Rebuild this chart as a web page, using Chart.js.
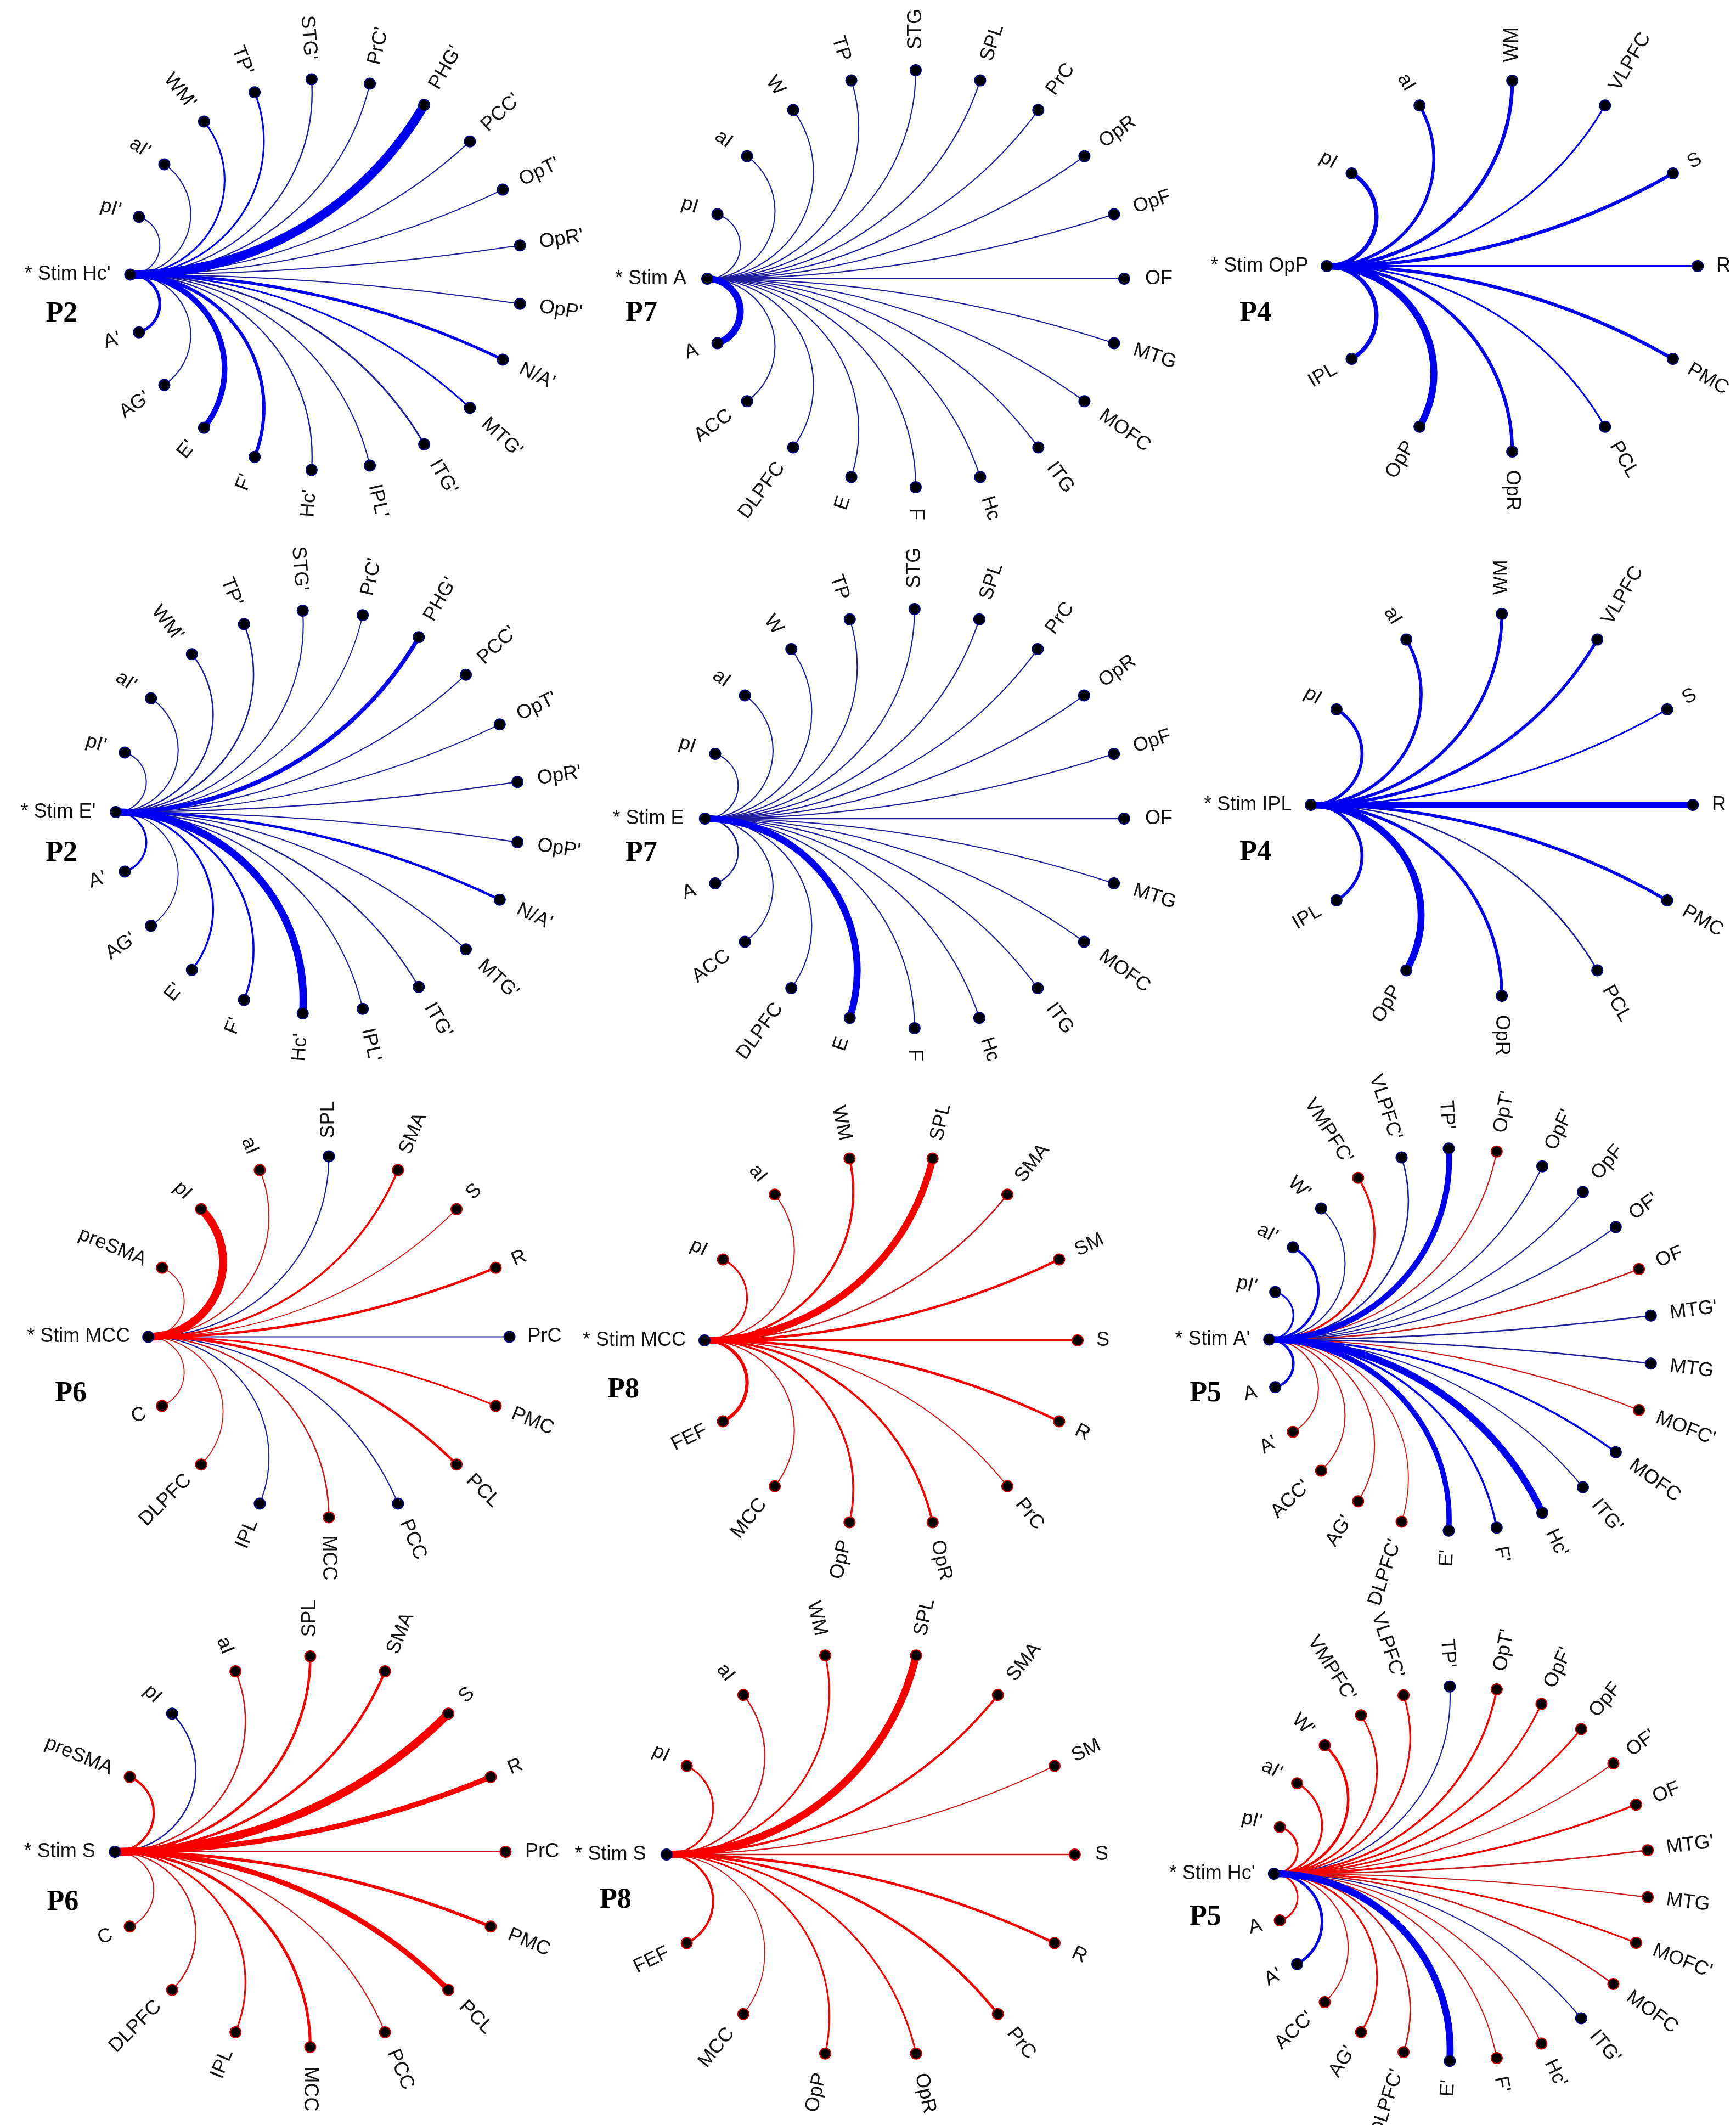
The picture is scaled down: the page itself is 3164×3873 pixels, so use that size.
<!DOCTYPE html>
<html>
<head>
<meta charset="utf-8">
<script src="https://cdn.jsdelivr.net/npm/chart.js@4.4.1/dist/chart.umd.min.js"></script>
<style>
html, body { margin: 0; padding: 0; background: #fff; }
body { width: 3164px; height: 3873px; position: relative; overflow: hidden; }
canvas { position: absolute; }
</style>
</head>
<body>
<script>
// node lists, clockwise from the node just above the stimulation site
const nodesP2 = ["pI'", "aI'", "WM'", "TP'", "STG'", "PrC'", "PHG'", "PCC'", "OpT'", "OpR'", "OpP'", "N/A'", "MTG'", "ITG'", "IPL'", "Hc'", "F'", "E'", "AG'", "A'"];
const nodesP7 = ["pI", "aI", "W", "TP", "STG", "SPL", "PrC", "OpR", "OpF", "OF", "MTG", "MOFC", "ITG", "Hc", "F", "E", "DLPFC", "ACC", "A"];
const nodesP4 = ["pI", "aI", "WM", "VLPFC", "S", "R", "PMC", "PCL", "OpR", "OpP", "IPL"];
const nodesP6 = ["preSMA", "pI", "aI", "SPL", "SMA", "S", "R", "PrC", "PMC", "PCL", "PCC", "MCC", "IPL", "DLPFC", "C"];
const nodesP8 = ["pI", "aI", "WM", "SPL", "SMA", "SM", "S", "R", "PrC", "OpR", "OpP", "MCC", "FEF"];
const nodesP5 = ["pI'", "aI'", "W'", "VMPFC'", "VLPFC'", "TP'", "OpT'", "OpF'", "OpF", "OF'", "OF", "MTG'", "MTG", "MOFC'", "MOFC", "ITG'", "Hc'", "F'", "E'", "DLPFC'", "AG'", "ACC'", "A'", "A"];

// connection strength per node: negative = decrease (blue), positive = increase (red)
const stimHcP2 = [-1.5, -1.5, -2.5, -2.5, -1.8, -1.5, -16, -1.5, -1.5, -1.5, -1.5, -4.7, -2.6, -2.4, -1.5, -1.8, -5.4, -9.5, -1.5, -4.7];
const stimAP7 = [-1.5, -1.5, -1.5, -1.5, -1.5, -1.5, -1.5, -1.5, -1.5, -1.5, -1.5, -1.5, -1.5, -1.5, -1.5, -1.5, -1.5, -1.5, -12];
const stimOpPP4 = [-7, -5, -6, -2.5, -5.5, -3.5, -5.5, -2.5, -5.5, -12, -7];
const stimEP2 = [-1.5, -1.5, -2, -2, -1.5, -1.2, -7, -1.5, -1.2, -1.5, -1.5, -4, -1.5, -1.8, -1.5, -13, -3, -3, -1.2, -3];
const stimEP7 = [-1.5, -1.5, -1.5, -1.5, -1.5, -1.5, -1.5, -1.5, -1.5, -2, -1.5, -1.5, -1.5, -1.5, -1.5, -12, -1.5, -1.5, -2];
const stimIplP4 = [-5, -5, -5, -5, -2.5, -10, -5, -2, -5, -12, -5];
const stimMccP6 = [1.2, 14, 1.5, -1.5, 3, 1.2, 4, -1.5, 2.5, 4, -1.5, 2, -1.5, 1.2, 1.2];
const stimMccP8 = [2.5, 1.5, 3.5, 12, 2, 4, 3.5, 4, 1.5, 3.5, 3, 1.5, 5.5];
const stimAP5 = [-2.5, -4, -1.5, 3, -2, -10, 1.5, -1.5, -1.5, -1.5, 2, -2, -2, 1.5, -3, -1.5, -12, -3, -9, 1.2, 1.5, 1.5, 1.5, -4];
const stimSP6 = [3.5, -2, 2, 4, 4, 14, 9, 1.5, 5, 9, 1.5, 4.5, 2.5, 2, 1.5];
const stimSP8 = [2.5, 2, 2.5, 13, 3.5, 1.5, 2, 4, 4, 2.5, 2.5, 1.2, 3.5];
const stimHcP5 = [3, 3, 4, 2.5, 2.5, -1.5, 3, 2.5, 2.5, 1.5, 3, 2, 1.5, 2.5, 2, -1.5, 1.5, 1.5, -12, 2, 2.5, 1.5, -4.5, 2.5];

const panels = [
  { nodes: nodesP2, values: stimHcP2, stim: "Hc'", tag: 'P2' },
  { nodes: nodesP7, values: stimAP7, stim: 'A', tag: 'P7' },
  { nodes: nodesP4, values: stimOpPP4, stim: 'OpP', tag: 'P4' },
  { nodes: nodesP2, values: stimEP2, stim: "E'", tag: 'P2' },
  { nodes: nodesP7, values: stimEP7, stim: 'E', tag: 'P7' },
  { nodes: nodesP4, values: stimIplP4, stim: 'IPL', tag: 'P4' },
  { nodes: nodesP6, values: stimMccP6, stim: 'MCC', tag: 'P6' },
  { nodes: nodesP8, values: stimMccP8, stim: 'MCC', tag: 'P8' },
  { nodes: nodesP5, values: stimAP5, stim: "A'", tag: 'P5' },
  { nodes: nodesP6, values: stimSP6, stim: 'S', tag: 'P6' },
  { nodes: nodesP8, values: stimSP8, stim: 'S', tag: 'P8' },
  { nodes: nodesP5, values: stimHcP5, stim: "Hc'", tag: 'P5' }
];

// page layout: circle centre, radius, panel tag position
const layout = [
  { cx: 594, cy: 500, r: 357, tx: 112, ty: 572 },
  { cx: 1669, cy: 508, r: 380, tx: 1169, ty: 572 },
  { cx: 2756, cy: 485, r: 338, tx: 2288, ty: 572 },
  { cx: 579, cy: 1480, r: 368, tx: 112, ty: 1556 },
  { cx: 1667, cy: 1492, r: 382, tx: 1169, ty: 1556 },
  { cx: 2737, cy: 1467, r: 348, tx: 2288, ty: 1555 },
  { cx: 599, cy: 2436, r: 329, tx: 129, ty: 2540 },
  { cx: 1624, cy: 2443, r: 340, tx: 1136, ty: 2534 },
  { cx: 2662, cy: 2441, r: 349, tx: 2197, ty: 2540 },
  { cx: 565, cy: 3375, r: 356, tx: 114, ty: 3468 },
  { cx: 1587, cy: 3380, r: 372, tx: 1122, ty: 3464 },
  { cx: 2664, cy: 3415, r: 342, tx: 2197, ty: 3495 }
];

const X0 = -1.9, X1 = 1.6, Y0 = -1.5, Y1 = 1.5;

function nodeAngle(i, n) {
  return Math.PI - (i + 1) * 2 * Math.PI / (n + 1);
}

function edgeColor(v) {
  const thin = Math.abs(v) < 2.5;
  if (v < 0) return thin ? '#1c1c9c' : '#0000f0';
  return thin ? '#cc1818' : '#f80000';
}

function fanPlugin(p, tagX, tagY) {
  const n = p.nodes.length;
  return {
    id: 'fan',
    beforeDatasetsDraw(chart) {
      const { ctx, scales: { x, y } } = chart;
      const ux = x.getPixelForValue(1) - x.getPixelForValue(0);
      const uy = y.getPixelForValue(0) - y.getPixelForValue(1);
      const order = p.values.map((v, i) => i)
        .sort((a, b) => Math.abs(p.values[a]) - Math.abs(p.values[b]));
      ctx.save();
      ctx.lineCap = 'round';
      order.forEach(i => {
        const v = p.values[i];
        const t = nodeAngle(i, n);
        ctx.beginPath();
        if (Math.abs(Math.sin(t)) < 1e-6) {
          ctx.moveTo(x.getPixelForValue(-1), y.getPixelForValue(0));
          ctx.lineTo(x.getPixelForValue(Math.cos(t)), y.getPixelForValue(Math.sin(t)));
        } else {
          // arc of the circle orthogonal to the unit circle through stim and node
          const k = (1 + Math.cos(t)) / Math.sin(t);
          const a0 = k > 0 ? -Math.PI / 2 : Math.PI / 2;
          const a1 = Math.atan2(Math.sin(t) - k, Math.cos(t) + 1);
          ctx.ellipse(x.getPixelForValue(-1), y.getPixelForValue(k),
            Math.abs(k) * ux, Math.abs(k) * uy, 0, -a0, -a1, k > 0);
        }
        ctx.lineWidth = Math.abs(v) + 0.6;
        ctx.strokeStyle = edgeColor(v);
        ctx.stroke();
      });
      ctx.restore();
    },
    afterDatasetsDraw(chart) {
      const { ctx, scales: { x, y } } = chart;
      ctx.save();
      ctx.fillStyle = '#111';
      ctx.font = '36px "Liberation Sans", Arial, sans-serif';
      ctx.textBaseline = 'middle';
      p.nodes.forEach((name, i) => {
        const t = nodeAngle(i, n);
        const left = Math.abs(t) > Math.PI / 2 + 1e-9;
        ctx.save();
        ctx.translate(x.getPixelForValue(1.1 * Math.cos(t)), y.getPixelForValue(1.1 * Math.sin(t)));
        ctx.rotate(left ? -(t + Math.PI) : -t);
        ctx.textAlign = left ? 'right' : 'left';
        ctx.fillText(name, 0, 0);
        ctx.restore();
      });
      ctx.textAlign = 'right';
      ctx.fillText('* Stim ' + p.stim, x.getPixelForValue(-1.1), y.getPixelForValue(0));
      ctx.fillStyle = '#000';
      ctx.font = 'bold 52px "Liberation Serif", "Times New Roman", serif';
      ctx.textAlign = 'center';
      ctx.fillText(p.tag, tagX, tagY);
      ctx.restore();
    }
  };
}

panels.forEach((p, k) => {
  const L = layout[k];
  const left = L.cx + X0 * L.r, top = L.cy - Y1 * L.r;
  const w = Math.round((X1 - X0) * L.r), h = Math.round((Y1 - Y0) * L.r);
  const cv = document.createElement('canvas');
  cv.width = w; cv.height = h;
  cv.style.left = left + 'px'; cv.style.top = top + 'px';
  cv.style.width = w + 'px'; cv.style.height = h + 'px';
  document.body.appendChild(cv);

  const n = p.nodes.length;
  const pts = [{ x: -1, y: 0 }];
  const borders = ['#000080'];
  p.nodes.forEach((name, i) => {
    const t = nodeAngle(i, n);
    pts.push({ x: Math.cos(t), y: Math.sin(t) });
    borders.push(p.values[i] < 0 ? '#000080' : '#cc0000');
  });

  new Chart(cv, {
    type: 'scatter',
    data: {
      datasets: [{
        data: pts,
        pointRadius: 10,
        pointBackgroundColor: '#000',
        pointBorderColor: borders,
        pointBorderWidth: 2
      }]
    },
    options: {
      responsive: false,
      animation: false,
      devicePixelRatio: 1,
      events: [],
      layout: { padding: 0, autoPadding: false },
      plugins: { legend: { display: false }, tooltip: { enabled: false } },
      scales: {
        x: { type: 'linear', min: X0, max: X1, display: false },
        y: { type: 'linear', min: Y0, max: Y1, display: false }
      }
    },
    plugins: [fanPlugin(p, L.tx - left, L.ty - top)]
  });
});
</script>
</body>
</html>
